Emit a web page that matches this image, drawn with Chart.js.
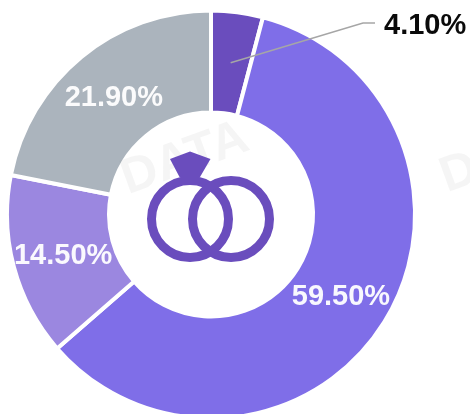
<!DOCTYPE html>
<html>
<head>
<meta charset="utf-8">
<script src="https://cdn.jsdelivr.net/npm/chart.js@4"></script>
<style>
  html,body{margin:0;padding:0;background:#fff;overflow:hidden;width:470px;height:414px;}
  canvas{position:absolute;left:0;top:0;}
</style>
</head>
<body>
<canvas id="chart" width="470" height="432"></canvas>
<script>
// data
var labels = ['4.10%', '59.50%', '14.50%', '21.90%'];
var values = [4.1, 59.5, 14.5, 21.9];
var colors = ['#6a4dbd', '#7f6ee8', '#9b87e0', '#abb4bd'];
var watermark = 'DATA';

// values printed on the slices, first one goes outside with a leader line
var sliceLabels = {
  id: 'sliceLabels',
  afterDatasetsDraw(chart) {
    var ctx = chart.ctx;
    var arcs = chart.getDatasetMeta(0).data;
    ctx.save();
    ctx.font = 'bold 29px "Liberation Sans", Arial, sans-serif';
    ctx.textBaseline = 'middle';
    ctx.textAlign = 'center';
    arcs.forEach(function(arc, i) {
      var pos = arc.tooltipPosition();
      if (i === 0) {
        ctx.strokeStyle = '#a6a6a6';
        ctx.lineWidth = 1.5;
        ctx.beginPath();
        ctx.moveTo(pos.x, pos.y);
        ctx.lineTo(363, 23);
        ctx.lineTo(375, 23);
        ctx.stroke();
        ctx.fillStyle = '#0a0a0a';
        ctx.textAlign = 'left';
        ctx.fillText(labels[i], 384, 26);
        ctx.textAlign = 'center';
      } else {
        ctx.fillStyle = 'rgba(255,255,255,0.95)';
        ctx.fillText(labels[i], pos.x, pos.y + 2);
      }
    });
    ctx.restore();
  }
};

// rings icon in the hole
var ringsIcon = {
  id: 'ringsIcon',
  afterDraw(chart) {
    var ctx = chart.ctx;
    ctx.save();
    ctx.strokeStyle = '#6a4dbd';
    ctx.fillStyle = '#6a4dbd';
    ctx.lineWidth = 9;
    ctx.beginPath();
    ctx.arc(190, 219, 38.5, 0, Math.PI * 2);
    ctx.stroke();
    ctx.beginPath();
    ctx.arc(231, 219, 38.5, 0, Math.PI * 2);
    ctx.stroke();
    ctx.beginPath();
    ctx.moveTo(170, 159);
    ctx.lineTo(190, 151.5);
    ctx.lineTo(210.5, 159);
    ctx.lineTo(200, 177);
    ctx.lineTo(179.5, 177);
    ctx.closePath();
    ctx.fill();
    ctx.restore();
  }
};

// faint stamps
var stamps = {
  id: 'stamps',
  afterDraw(chart) {
    var ctx = chart.ctx;
    var spots = [[185, 159], [504, 157]];
    ctx.save();
    ctx.font = 'bold 50px "Liberation Sans", Arial, sans-serif';
    ctx.fillStyle = 'rgba(120,120,120,0.07)';
    ctx.textAlign = 'center';
    ctx.textBaseline = 'middle';
    spots.forEach(function(s) {
      ctx.save();
      ctx.translate(s[0], s[1]);
      ctx.rotate(-20 * Math.PI / 180);
      ctx.fillText(watermark, 0, 0);
      ctx.restore();
    });
    ctx.restore();
  }
};

new Chart(document.getElementById('chart'), {
  type: 'doughnut',
  data: {
    labels: labels,
    datasets: [{
      data: values,
      backgroundColor: colors,
      borderColor: '#ffffff',
      borderWidth: 4
    }]
  },
  options: {
    responsive: false,
    animation: false,
    cutout: '50%',
    layout: { padding: { left: 5, right: 53, top: 8, bottom: 11 } },
    plugins: {
      legend: { display: false },
      tooltip: { enabled: false }
    }
  },
  plugins: [stamps, sliceLabels, ringsIcon]
});
</script>
</body>
</html>
